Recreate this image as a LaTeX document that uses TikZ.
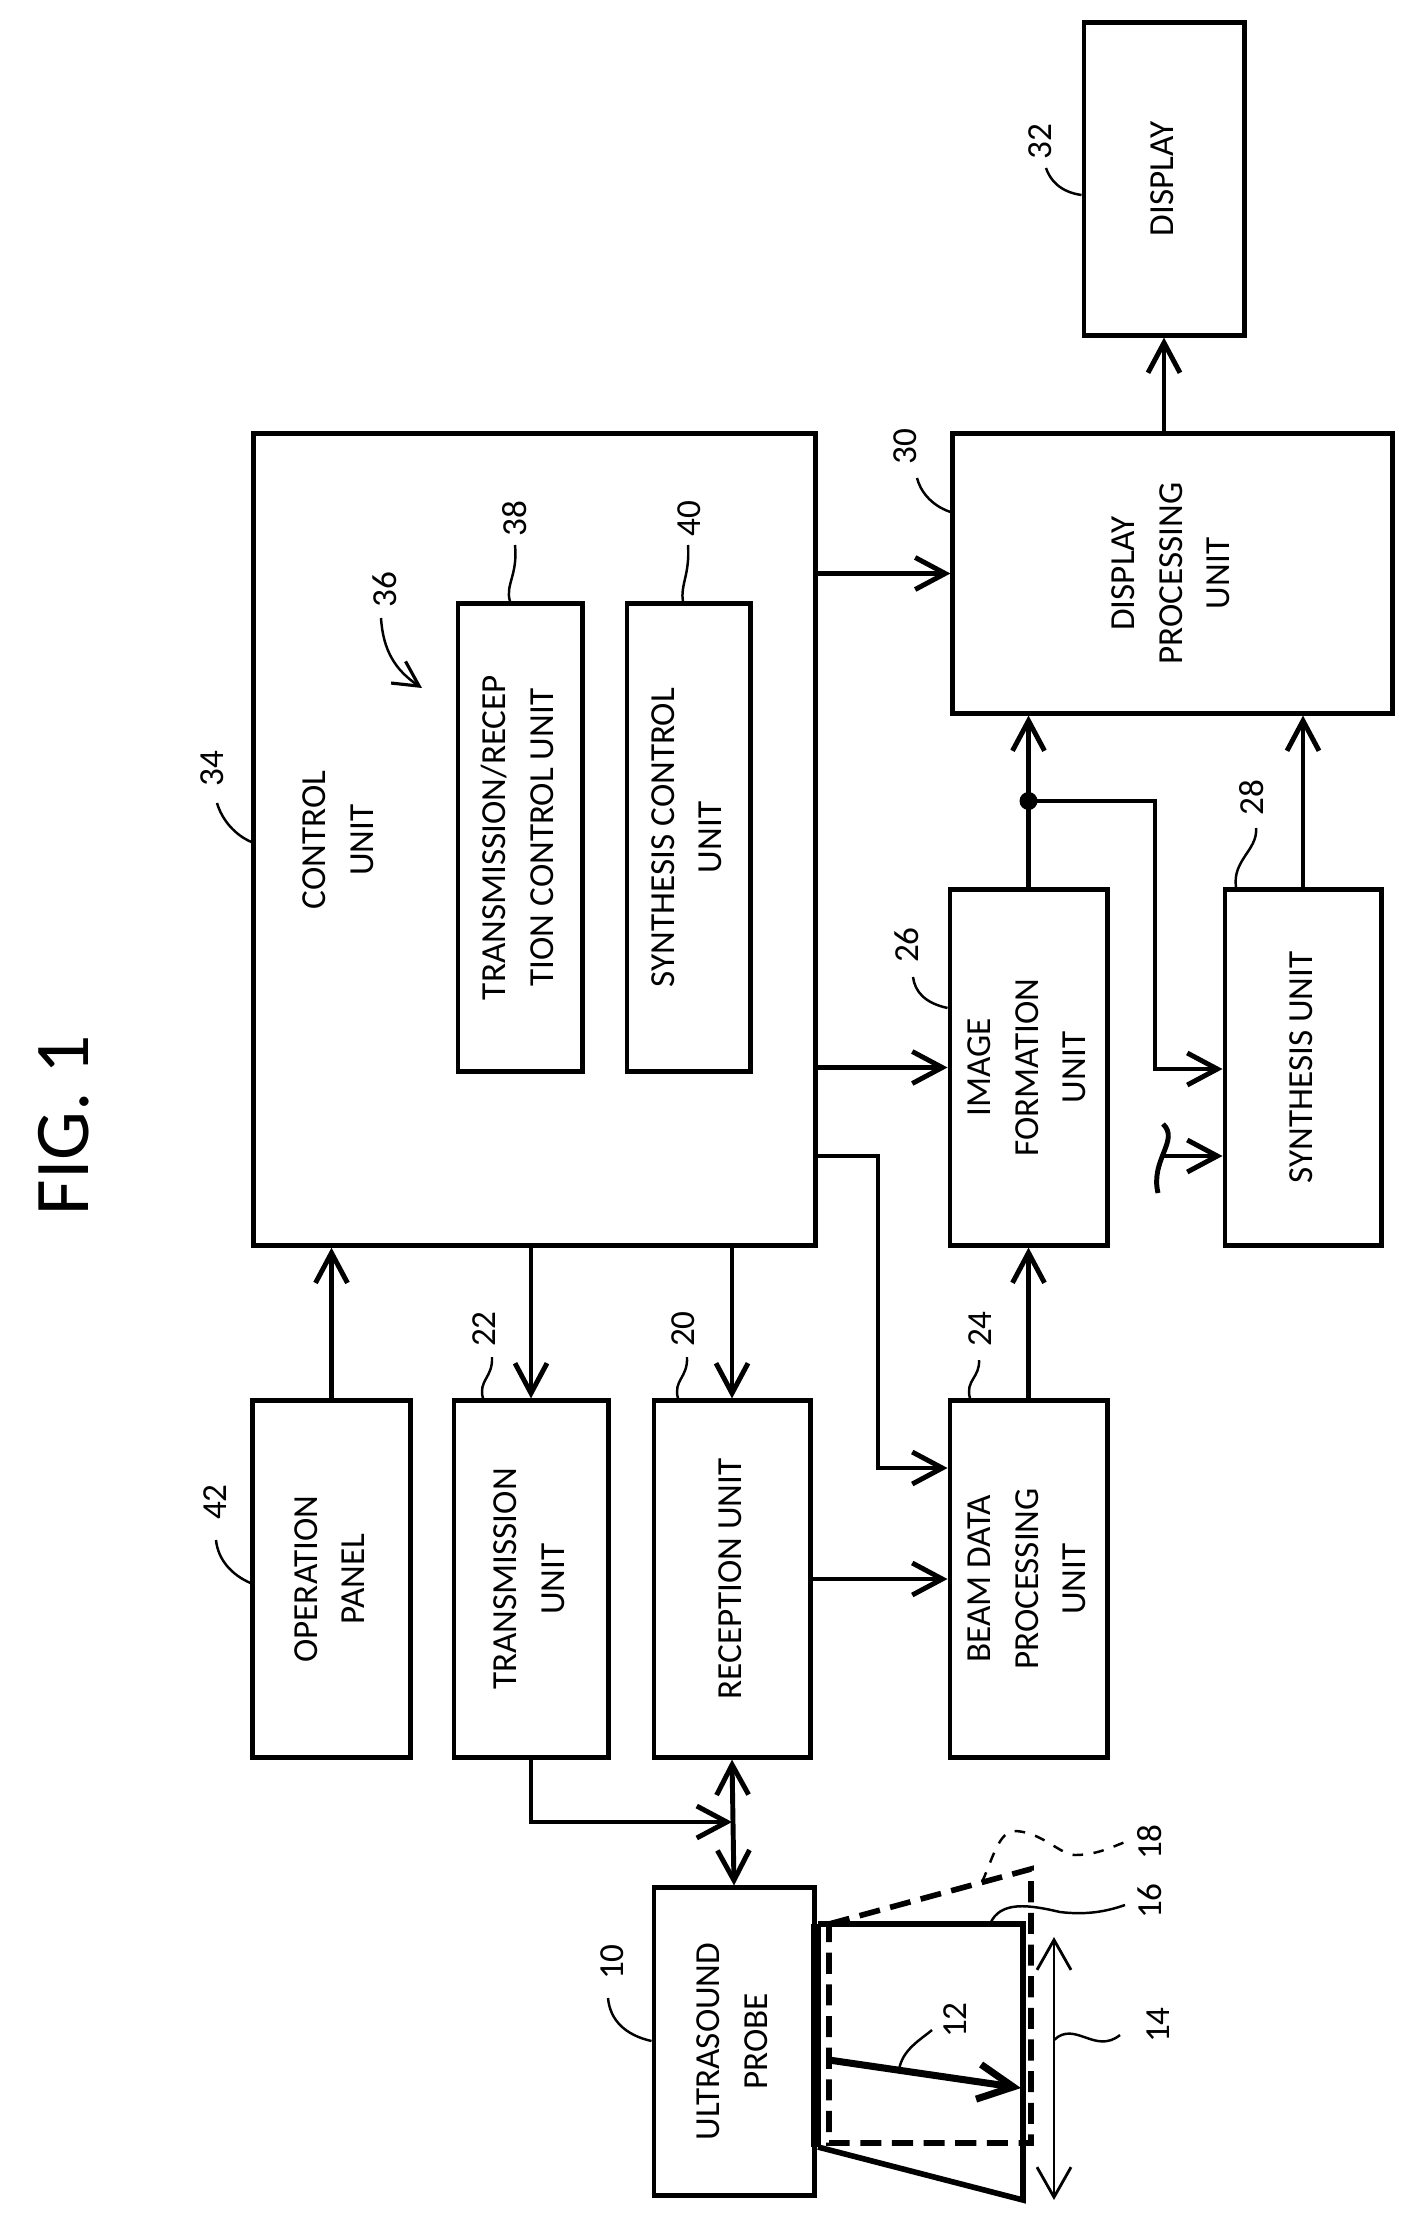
\documentclass[tikz,border=0pt]{standalone}
\usepackage{fontspec}
\setmainfont{Carlito}
\usetikzlibrary{arrows.meta, calc}
\newcommand{\vtext}[1]{\rotatebox{90}{\begin{tabular}{@{}c@{}}#1\end{tabular}}}

\begin{document}
\begin{tikzpicture}[
    x=0.01cm, y=-0.01cm,
    font=\fontsize{10}{13.5}\selectfont,
    >={Straight Barb[length=3mm, width=3.2mm, line width=1.4pt]},
    % Node Styles
    box/.style={draw, line width=1.4pt, inner sep=0pt, align=center},
    lbl/.style={rotate=90, inner sep=1pt, font=\fontsize{10}{12}\selectfont},
    conn/.style={->, line width=1.4pt},
    lead/.style={line width=0.7pt}
]
\useasboundingbox (0,0) rectangle (1400,2231);

% --- Title ---
\node[rotate=90, font=\fontsize{22}{24}\selectfont] (fig) at (64,1125) {FIG. 1};

% --- Blocks ---
\node[box, minimum width=1.60cm, minimum height=3.12cm] (disp) at (1164,179) {\vtext{DISPLAY}};
\node[box, minimum width=4.39cm, minimum height=2.79cm] (dpu) at (1172.5,573.5) {\vtext{DISPLAY\\PROCESSING\\UNIT}};
\node[box, minimum width=5.61cm, minimum height=8.11cm] (ctrl) at (534.5,839.5) {};
\node[rotate=90, align=center] (ctrlTxt) at (338,840) {CONTROL\\UNIT};
\node[box, minimum width=1.24cm, minimum height=4.67cm] (trCtrl) at (520,837.5) {\vtext{TRANSMISSION/RECEP\\TION CONTROL UNIT}};
\node[box, minimum width=1.23cm, minimum height=4.67cm] (synCtrl) at (688.5,837.5) {\vtext{SYNTHESIS CONTROL\\UNIT}};
\node[box, minimum width=1.57cm, minimum height=3.55cm] (imgForm) at (1028.5,1067.5) {\vtext{IMAGE\\FORMATION\\UNIT}};
\node[box, minimum width=1.56cm, minimum height=3.55cm] (synUnit) at (1303,1067.5) {\vtext{SYNTHESIS UNIT}};
\node[box, minimum width=1.57cm, minimum height=3.56cm] (opPanel) at (331.5,1579) {\vtext{OPERATION\\PANEL}};
\node[box, minimum width=1.54cm, minimum height=3.56cm] (trans) at (531,1579) {\vtext{TRANSMISSION\\UNIT}};
\node[box, minimum width=1.56cm, minimum height=3.56cm] (recep) at (732,1579) {\vtext{RECEPTION UNIT}};
\node[box, minimum width=1.57cm, minimum height=3.56cm] (beam) at (1028.5,1579) {\vtext{BEAM DATA\\PROCESSING\\UNIT}};
\node[box, minimum width=1.60cm, minimum height=3.07cm] (probe) at (734,2041.5) {\vtext{ULTRASOUND\\PROBE}};

% --- Connections ---
\draw[conn] (dpu.north -| disp) -- (disp.south);
\draw[conn] (ctrl.east |- dpu) -- (dpu.west);
\draw[conn] (ctrl.east |- imgForm) -- (imgForm.west);
\coordinate (ctrlOut) at (815,1156);
\draw[conn] (ctrlOut) -- (878,1156) |- (beam.west |- 0,1468);
\draw[conn] (opPanel.north) -- (opPanel.north |- ctrl.south);
\draw[conn] (ctrl.south -| trans) -- (trans.north);
\draw[conn] (ctrl.south -| recep) -- (recep.north);
\draw[conn] (recep.east) -- (beam.west);
\draw[conn] (beam.north) -- (imgForm.south);
\draw[conn] (imgForm.north) -- (dpu.south -| imgForm);
\draw[conn] (synUnit.north) -- (dpu.south -| synUnit);
\coordinate (branch) at (1028.5,801);
\fill (branch) circle (9);
\draw[conn] (branch) -- (1155,801) |- (synUnit.west |- 0,1069);
\coordinate (extIn) at (1161,1156);
\draw[line width=1.4pt] (1163,1124) .. controls (1180,1140) and (1150,1160) .. (1158,1193);
\draw[conn] (extIn) -- (synUnit.west |- extIn);
\coordinate (txJoin) at (732,1822);
\draw[conn] (trans.south) |- (txJoin);
\draw[<->, line width=1.4pt] (recep.south) -- (probe.north);

% --- Probe field ---
\draw[line width=3pt] (816,1924) -- (816,2147);
\draw[line width=1.6pt] (818,1924) -- (1023,1924) -- (1023,2200) -- (818,2147);
\draw[line width=1.6pt, dash pattern=on 6pt off 3pt] (829,1924) -- (1031,1869) -- (1031,2143) -- (829,2143) -- cycle;
\draw[line width=2pt, -{Straight Barb[length=3.5mm, width=3.5mm, line width=2pt]}] (829,2060) -- (1021,2088);
\draw[line width=0.8pt, {Straight Barb[length=3mm, width=3.4mm, line width=0.8pt]}-{Straight Barb[length=3mm, width=3.4mm, line width=0.8pt]}] (1054,1937) -- (1054,2200);

% --- Reference numerals ---
\node[lbl] (l32) at (1040,142) {32};
\draw[lead] (disp.west |- 0,195) .. controls (1060,192) and (1050,180) .. (1046,168);
\node[lbl] (l30) at (905,447) {30};
\draw[lead] (dpu.west |- 0,512) .. controls (930,505) and (920,490) .. (917,478);
\node[lbl] (l38) at (515,519) {38};
\draw[lead] (trCtrl.north -| 510,0) .. controls (505,585) and (518,575) .. (515,545);
\node[lbl] (l40) at (689,519) {40};
\draw[lead] (synCtrl.north -| 683,0) .. controls (680,585) and (690,575) .. (688,545);
\node[lbl] (l36) at (385,590) {36};
\draw[lead, -{Straight Barb[length=2.5mm, width=2.6mm, line width=0.9pt]}] (381,618) .. controls (383,650) and (395,670) .. (422,688);
\node[lbl] (l34) at (212,769) {34};
\draw[lead] (ctrl.west |- 0,842) .. controls (235,835) and (222,820) .. (217,803);
\node[lbl] (l26) at (907,945) {26};
\draw[lead] (imgForm.west |- 0,1008) .. controls (925,1003) and (915,992) .. (913,977);
\node[lbl] (l28) at (1252,798) {28};
\draw[lead] (synUnit.north -| 1236,0) .. controls (1232,860) and (1258,850) .. (1256,828);
\node[lbl] (l22) at (484,1329) {22};
\draw[lead] (trans.north -| 483,0) .. controls (478,1380) and (493,1378) .. (492,1357);
\node[lbl] (l20) at (683,1329) {20};
\draw[lead] (recep.north -| 678,0) .. controls (673,1380) and (688,1378) .. (687,1357);
\node[lbl] (l24) at (980,1329) {24};
\draw[lead] (beam.north -| 970,0) .. controls (965,1380) and (980,1378) .. (979,1360);
\node[lbl] (l42) at (215,1502) {42};
\draw[lead] (opPanel.west |- 0,1583) .. controls (232,1575) and (218,1560) .. (216,1540);
\node[lbl] (l10) at (612,1962) {10};
\draw[lead] (probe.west |- 0,2041) .. controls (625,2035) and (610,2020) .. (608,1998);
\node[lbl] (l12) at (955,2020) {12};
\draw[lead] (899,2070) .. controls (902,2050) and (920,2040) .. (932,2030);
\node[lbl] (l14) at (1158,2025) {14};
\draw[lead] (1054,2040) .. controls (1075,2020) and (1095,2055) .. (1120,2035);
\node[lbl] (l16) at (1150,1901) {16};
\draw[lead] (990,1924) .. controls (1000,1900) and (1030,1905) .. (1060,1912) .. controls (1085,1915) and (1105,1912) .. (1125,1905);
\node[lbl] (l18) at (1150,1842) {18};
\draw[lead, dashed] (982,1882) .. controls (992,1860) and (998,1835) .. (1012,1831) .. controls (1040,1830) and (1060,1855) .. (1075,1855) .. controls (1095,1855) and (1110,1848) .. (1125,1842);
\end{tikzpicture}
\end{document}
